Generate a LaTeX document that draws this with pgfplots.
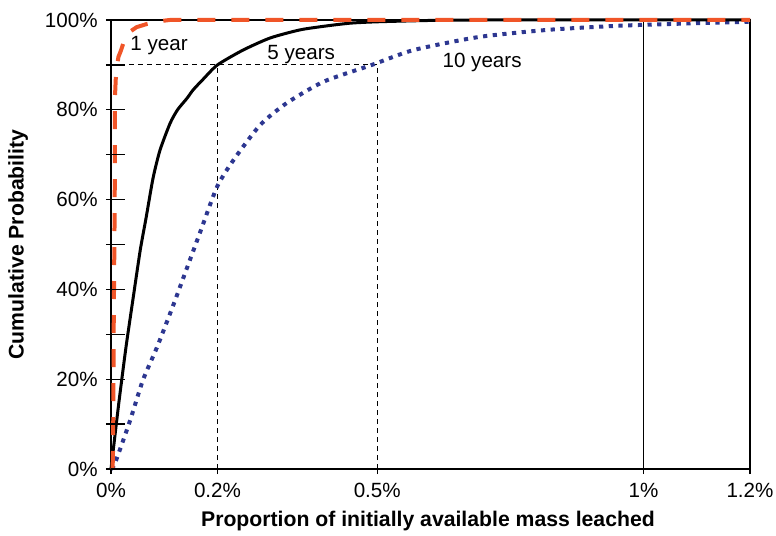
\documentclass[border=0pt]{standalone}
\usepackage{pgfplots}
\pgfplotsset{compat=1.18}
\usepackage{fontspec}
\setmainfont{Liberation Sans}
\definecolor{oneyr}{RGB}{240,85,40}
\definecolor{tenyr}{RGB}{45,55,145}
\begin{document}
\fontsize{10.3bp}{12bp}\selectfont
\begin{tikzpicture}
\useasboundingbox (-55.5bp,-33.5bp) rectangle (332.5bp,234.5bp);
\begin{axis}[
  at={(0,0)}, anchor=south west,
  scale only axis, width=319.5bp, height=224.5bp,
  xmin=0, xmax=1.2, ymin=0, ymax=100,
  axis line style={line width=0.65bp},
  every tick/.style={black, line width=0.65bp},
  tick align=outside, major tick length=2.5bp,
  xtick pos=bottom, ytick pos=left,
  xtick={0,0.2,0.5,1,1.2}, xticklabels={0\%,0.2\%,0.5\%,1\%,1.2\%},
  ytick={0,10,...,100}, yticklabels={0\%,,20\%,,40\%,,60\%,,80\%,,100\%},
  xticklabel style={font=\fontsize{10.3bp}{12bp}\selectfont, anchor=north, inner sep=0pt, yshift=-4.5bp},
  yticklabel style={font=\fontsize{10.3bp}{12bp}\selectfont, anchor=east, inner sep=0pt, xshift=-4bp},
  xlabel={Proportion of initially available mass leached},
  ylabel={Cumulative Probability},
  xlabel style={font=\bfseries\fontsize{10.6bp}{12bp}\selectfont, at={(axis description cs:0.496,-0.1158)}, anchor=center},
  ylabel style={font=\bfseries\fontsize{10.6bp}{12bp}\selectfont, at={(axis description cs:-0.1455,0.5)}, anchor=center},
  clip=false,
]
% reference lines
\addplot[black, line width=0.5bp, dash pattern=on 2.5bp off 2bp] coordinates {(0,90) (0.5,90)};
\addplot[black, line width=0.5bp, dash pattern=on 2.5bp off 2bp] coordinates {(0.2,0) (0.2,90)};
\addplot[black, line width=0.5bp, dash pattern=on 2.5bp off 2bp] coordinates {(0.5,0) (0.5,90)};
\addplot[black, line width=0.65bp] coordinates {(1,0) (1,100)};
% 10 years
\addplot[tenyr, line width=2bp, dash pattern=on 2.1bp off 2.75bp, smooth, tension=0.4] coordinates {
(0,0) (0.0075,1.3) (0.035,10.5) (0.06,19.8) (0.086,27) (0.117,36.5) (0.135,42.3) (0.167,52.6) (0.199,62.8) (0.23,68.8) (0.28,76.6) (0.33,81.5) (0.4,86.3) (0.49,90) (0.568,93.3) (0.69,96.2) (0.82,97.8) (0.95,98.7) (1.075,99.2) (1.2,99.6)};
% 5 years
\addplot[black, line width=1.5bp, smooth, tension=0.4] coordinates {
(0,0) (0.005,5) (0.015,15) (0.028,27) (0.041,37.6) (0.055,48.8) (0.066,56) (0.079,64.8) (0.092,71) (0.111,77) (0.125,80) (0.143,82.6) (0.154,84.4) (0.173,86.8) (0.2,90) (0.248,93.3) (0.299,96) (0.355,97.8) (0.406,98.7) (0.45,99.3) (0.5,99.6) (0.6,99.9) (0.7,100) (1.2,100)};
% 1 year
\addplot[oneyr, line width=2bp, dash pattern=on 9bp off 8bp, line join=round] coordinates {
(0.003,0) (0.004,5) (0.005,30) (0.007,60) (0.0075,83) (0.009,87) (0.011,89.6) (0.014,91.8) (0.019,93.3) (0.025,95.5) (0.032,97.1) (0.048,98.4) (0.067,99.1) (0.09,99.7) (0.11,100) (1.2,100)};
\node[anchor=base west, inner sep=0pt] at (axis cs:0.0357,93.1) {1 year};
\node[anchor=base west, inner sep=0pt] at (axis cs:0.293,91.3) {5 years};
\node[anchor=base west, inner sep=0pt] at (axis cs:0.622,89.5) {10 years};
\end{axis}
\begin{axis}[
  at={(0,0)}, anchor=south west,
  scale only axis, width=319.5bp, height=224.5bp,
  xmin=0, xmax=1.2, ymin=0, ymax=100,
  axis line style={draw=none},
  every tick/.style={black, line width=0.65bp},
  tick align=inside, major tick length=7bp,
  ytick pos=left, xtick=\empty,
  ytick={0,10,...,100}, yticklabels={},
]
\end{axis}
\end{tikzpicture}
\end{document}
